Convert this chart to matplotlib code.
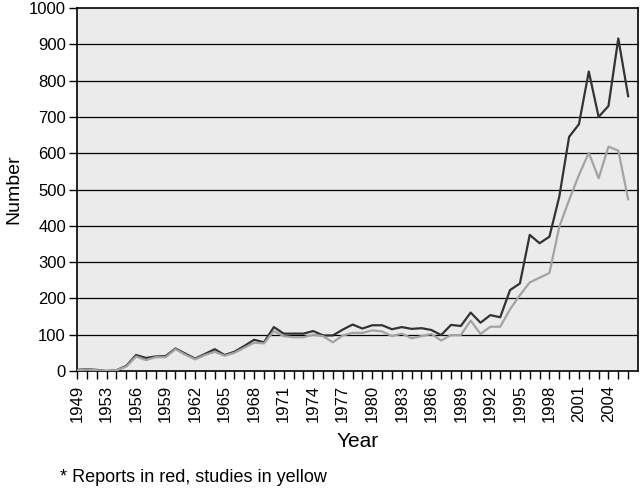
import numpy as np
from matplotlib import pyplot as plt

plt.rcParams['font.family'] = ['Liberation Sans', 'DejaVu Sans']

# categories (one year missing at the start of the series)
years = [1949, 1951, 1952] + list(range(1953, 2007))

reports = [3, 5, 3, 0, 2, 14, 44, 36, 40, 41,
           62, 48, 34, 47, 60, 44, 53, 69, 86, 79,
           121, 103, 103, 103, 110, 98, 98, 114, 128, 117,
           126, 126, 115, 121, 116, 118, 113, 99, 127, 124,
           161, 133, 154, 148, 223, 241, 375, 352, 370, 480,
           645, 680, 825, 700, 730, 916, 757]
studies = [2, 4, 2, 0, 2, 12, 40, 30, 38, 38,
           60, 45, 32, 44, 53, 42, 50, 64, 78, 76,
           110, 96, 93, 93, 100, 96, 79, 98, 105, 105,
           112, 109, 96, 103, 90, 96, 102, 84, 99, 99,
           139, 102, 122, 122, 170, 209, 244, 257, 270, 397,
           471, 540, 601, 531, 618, 607, 473]

x = np.arange(len(years))

fig = plt.figure(figsize=(6.4, 4.88), dpi=100)
ax = fig.add_axes([77/640, 1-371/488, (638-77)/640, (371-8)/488])
ax.set_facecolor('#ebebeb')

for yv in range(100, 1000, 100):
    ax.axhline(yv, color='black', lw=0.9, zorder=1)

ax.plot(x, reports, color='#333333', lw=1.6, zorder=3)
ax.plot(x, studies, color='#a3a3a3', lw=1.6, zorder=4)

ax.set_xlim(0, len(years))
ax.set_ylim(0, 1000)
ax.set_yticks(range(0, 1001, 100))
ax.tick_params(axis='y', labelsize=12, length=6, width=1, direction='out', pad=2)

ax.set_xticks(x, minor=True)
ax.set_xticks(x[::3])
ax.set_xticklabels([str(years[i]) for i in x[::3]], rotation=90)
ax.tick_params(axis='x', which='both', length=6, width=1, direction='out')
ax.tick_params(axis='x', labelsize=12, pad=4)

for s in ax.spines.values():
    s.set_linewidth(1.2)
    s.set_color('black')

ax.set_ylabel('Number', fontsize=14, labelpad=5)
ax.set_xlabel('Year', fontsize=15, labelpad=7)

fig.text(60/640, 1-478/488, '* Reports in red, studies in yellow', fontsize=13,
         ha='left', va='center')

fig.savefig('out.png', dpi=100)
